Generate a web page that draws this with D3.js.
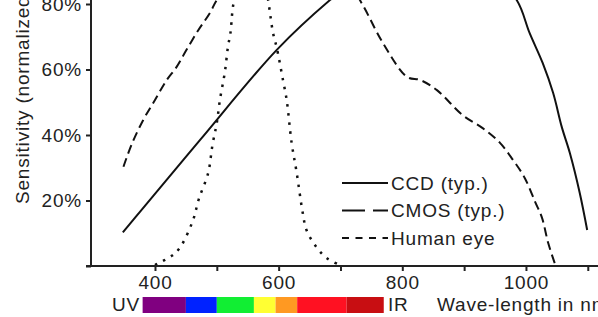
<!DOCTYPE html>
<html>
<head>
<meta charset="utf-8">
<script src="https://cdn.jsdelivr.net/npm/d3@7"></script>
<style>
  body { margin: 0; background: #fff; }
  svg { display: block; }
  text { font-family: "Liberation Sans", Arial, sans-serif; font-size: 19px; letter-spacing: 0.8px; fill: #222; }
</style>
</head>
<body>
<div id="chart"></div>
<script>
const width = 598, height = 317;

// wavelength (nm) / sensitivity (%)
const ccd = [
  [348, 10.3], [376, 16.6], [473, 38.5], [597, 66], [683, 81.2],
  [750, 91], [820, 97], [880, 97], [940, 90],
  [985, 81.2], [1006, 71.1], [1027, 62], [1044, 52.8], [1058, 42.4],
  [1071, 34.5], [1087, 22.3], [1099, 11]
];
const cmos = [
  [349, 30.3], [362, 37], [381, 44.6], [400, 50.7], [419, 56.8], [435, 60.8],
  [451, 66], [470, 72], [489, 77.3], [500, 81.2],
  [550, 93], [610, 99], [670, 95], [715, 86],
  [736, 79.7], [769, 68], [808, 57.7], [829, 56.8], [856, 53.7], [898, 46],
  [930, 42.1], [958, 37.6], [979, 32.4], [998, 26.9], [1015, 19.5],
  [1026, 14.7], [1036, 7], [1047, 0.6]
];
const eye = [
  [400, 0.3], [427, 3.1], [440, 5.5], [461, 13.7], [471, 20.5], [486, 28.4],
  [493, 37], [500, 43.7], [505, 50.7], [513, 59.2], [518, 66.9], [522, 71.1],
  [526, 79], [540, 94], [555, 100], [570, 95],
  [583, 81.2], [591, 71.1], [597, 66.6], [607, 56.8], [613, 50.7], [621, 37.6],
  [629, 28.7], [639, 16.2], [645, 11], [661, 5.8], [678, 2.4], [699, 0.3]
];

const xTicks = [400, 500, 600, 700, 800, 900, 1000, 1100];
const yTicks = [0, 20, 40, 60, 80, 100];

// visible spectrum band edges (nm) and colours
const bandEdges = [380, 450, 500, 560, 595, 630, 710, 770];
const bandColors = ["#800080", "#0022ff", "#11ee33", "#ffff33", "#ff9922", "#ff1122", "#c80e12"];

const series = [
  { name: "CCD (typ.)", data: ccd, dash: null, legendDash: null },
  { name: "CMOS (typ.)", data: cmos, dash: "9,5", legendDash: "23,8" },
  { name: "Human eye", data: eye, dash: "2.5,6.5", legendDash: "7,6.5" }
];

const svg = d3.select('#chart')
  .append('svg')
  .attr('width', width)
  .attr('height', height);

const x = d3.scaleLinear().domain([297, 1150]).range([91.3, 618.7]);
const y = d3.scaleLinear().domain([0, 100]).range([266, -61.5]);

// spectrum bar
svg.append('g')
  .selectAll('rect')
  .data(bandColors)
  .join('rect')
    .attr('x', (d, i) => x(bandEdges[i]))
    .attr('width', (d, i) => x(bandEdges[i + 1]) - x(bandEdges[i]))
    .attr('y', 297)
    .attr('height', 16)
    .attr('fill', d => d);

svg.append('text').text('UV')
  .attr('x', 140).attr('y', 311).attr('text-anchor', 'end');
svg.append('text').text('IR')
  .attr('x', 388).attr('y', 311);
svg.append('text').text('Wave-length in nm')
  .attr('x', 437).attr('y', 311);

// curves
const line = d3.line()
  .x(d => x(d[0]))
  .y(d => y(d[1]))
  .curve(d3.curveCatmullRom.alpha(0.5));

svg.append('g')
  .selectAll('path')
  .data(series)
  .join('path')
    .attr('d', d => line(d.data))
    .attr('fill', 'none')
    .attr('stroke', '#111')
    .attr('stroke-width', d => d.dash === "2.5,6.5" ? 2.5 : 2)
    .attr('stroke-dasharray', d => d.dash);

// axes
const bottomAxis = d3.axisBottom(x)
  .tickValues(xTicks)
  .tickFormat(d => d % 200 === 0 ? d : '')
  .tickSize(5)
  .tickPadding(5);

const gx = svg.append('g')
  .attr('transform', `translate(0, ${y(0)})`)
  .call(bottomAxis);
gx.select('.domain').attr('d', `M86,0H${width}`);

const leftAxis = d3.axisLeft(y)
  .tickValues(yTicks)
  .tickFormat(d => (d > 0 && d < 100) ? d + '%' : '')
  .tickSize(5)
  .tickPadding(4);

const gy = svg.append('g')
  .attr('transform', `translate(91, 0)`)
  .call(leftAxis);
gy.select('.domain').attr('d', `M0,${y(0)}V-70`);

svg.selectAll('.domain, .tick line')
  .attr('stroke', '#222')
  .attr('stroke-width', 2);
svg.selectAll('.tick text')
  .attr('font-size', null)
  .attr('font-family', null)
  .attr('fill', '#222');

svg.append('text')
  .text('Sensitivity (normalized)')
  .attr('transform', 'rotate(-90)')
  .attr('x', -204)
  .attr('y', 29);

// legend
const legend = svg.append('g')
  .selectAll('g')
  .data(series)
  .join('g')
    .attr('transform', (d, i) => `translate(342, ${183 + i * 27.5})`);

legend.append('line')
  .attr('x1', 0).attr('x2', 46)
  .attr('stroke', '#111')
  .attr('stroke-width', 2)
  .attr('stroke-dasharray', d => d.legendDash);

legend.append('text')
  .attr('x', 49)
  .attr('dy', '0.36em')
  .text(d => d.name);
</script>
</body>
</html>
